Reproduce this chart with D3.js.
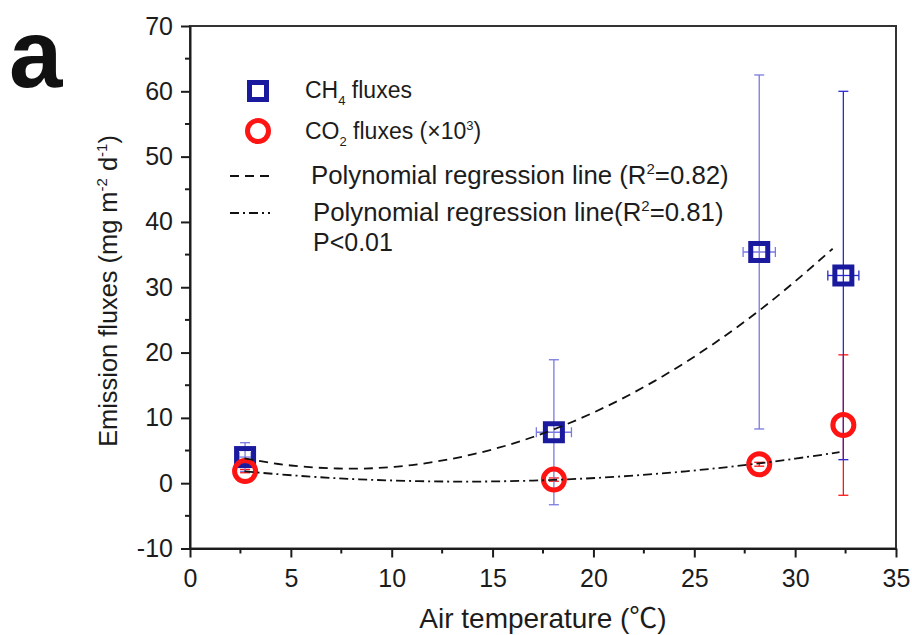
<!DOCTYPE html>
<html>
<head>
<meta charset="utf-8">
<script src="https://cdn.jsdelivr.net/npm/d3@7"></script>
<style>
  html, body { margin: 0; padding: 0; background: #fff; }
  svg { display: block; font-family: "Liberation Sans", Arial, "Noto Sans CJK SC", sans-serif; }
</style>
</head>
<body>
<svg id="chart" width="912" height="635"></svg>
<script>
// ---- data ----
const temperature = [2.73, 18.04, 28.22, 32.39];          // °C
const tempErr     = [0.30, 0.87, 0.80, 0.77];
const ch4Flux     = [4.0, 7.8, 35.4, 31.8];               // mg m-2 d-1
const ch4Err      = [2.2, 11.1, 27.1, 28.2];
const co2Flux     = [1.85, 0.55, 2.9, 8.9];               // ×10^3
const co2Err      = [0.25, 0.25, 0.3, 10.75];

// regression lines, points
const ch4FitX = [2.7, 5, 8, 11, 14, 17, 20, 23, 26, 29, 31.86];
const ch4FitY = [3.8, 2.71, 2.22, 2.78, 4.40, 7.07, 10.81, 15.59, 21.44, 28.34, 35.9];
const co2FitX = [2.7, 6, 9, 12, 15, 18, 21, 24, 27, 30, 32.2];
const co2FitY = [1.8, 1.0, 0.52, 0.28, 0.27, 0.50, 0.96, 1.66, 2.59, 3.76, 4.76];

const xTicks = [0, 5, 10, 15, 20, 25, 30, 35];
const yTicks = [-10, 0, 10, 20, 30, 40, 50, 60, 70];

// ---- layout ----
const L = 190, R = 896, T = 26, B = 548.5;
const svg = d3.select("#chart");
const x = d3.scaleLinear().domain([0, 35]).range([L, R]);
const y = d3.scaleLinear().domain([-10, 70]).range([B, T]);

const BLUE = "#1a1a9e", RED = "#ff1414", INK = "#1c1c1c";

// frame
svg.append("rect").attr("x", L).attr("y", T).attr("width", R - L).attr("height", B - T)
  .attr("fill", "none").attr("stroke", "#333").attr("stroke-width", 2);

// minor ticks
const xMinor = d3.range(2.5, 35, 5);
const yMinor = d3.range(-5, 70, 10);
svg.append("g").selectAll("line").data(xMinor).join("line")
  .attr("x1", d => x(d)).attr("x2", d => x(d)).attr("y1", B).attr("y2", B + 5)
  .attr("stroke", INK).attr("stroke-width", 2);
svg.append("g").selectAll("line").data(yMinor).join("line")
  .attr("y1", d => y(d)).attr("y2", d => y(d)).attr("x1", L).attr("x2", L - 5)
  .attr("stroke", INK).attr("stroke-width", 2);

// axes
const fmt = d => String(d);
const xAxis = svg.append("g").attr("transform", `translate(0,${B})`)
  .call(d3.axisBottom(x).tickValues(xTicks).tickFormat(fmt).tickSize(9).tickSizeOuter(0).tickPadding(12));
const yAxis = svg.append("g").attr("transform", `translate(${L},0)`)
  .call(d3.axisLeft(y).tickValues(yTicks).tickFormat(fmt).tickSize(9).tickSizeOuter(0).tickPadding(8));
[xAxis, yAxis].forEach(g => {
  g.select(".domain").attr("stroke", INK).attr("stroke-width", 2);
  g.selectAll(".tick line").attr("stroke", INK).attr("stroke-width", 2);
  g.selectAll(".tick text").attr("fill", INK).style("font-size", "25px")
    .style("font-family", "'Liberation Sans', Arial, sans-serif");
});

// axis titles
const yl = svg.append("text").attr("transform", "translate(117,291) rotate(-90)")
  .attr("text-anchor", "middle").attr("fill", INK).style("font-size", "25.4px");
yl.append("tspan").text("Emission fluxes (mg m");
yl.append("tspan").text("-2").attr("dy", -10).style("font-size", "15px");
yl.append("tspan").text(" d").attr("dy", 10);
yl.append("tspan").text("-1").attr("dy", -10).style("font-size", "15px");
yl.append("tspan").text(")").attr("dy", 10);

svg.append("text").attr("x", 543).attr("y", 628).attr("text-anchor", "middle")
  .attr("fill", INK).style("font-size", "28px").text("Air temperature (℃)");

// panel letter
svg.append("text").attr("x", 9).attr("y", 87).attr("fill", "#111")
  .style("font-size", "96px").style("font-weight", "bold").text("a");

// ---- error bars ----
const cap = 5;
const ch4ErrColor = i => i === 3 ? "#2a2ad0" : "#7a7ae0";
const eb = svg.append("g");
temperature.forEach((t, i) => {
  const cx = x(t);
  // CO2 vertical
  const c0 = y(co2Flux[i] - co2Err[i]), c1 = y(co2Flux[i] + co2Err[i]);
  eb.append("line").attr("x1", cx).attr("x2", cx).attr("y1", c0).attr("y2", c1).attr("stroke", RED).attr("stroke-width", 1.3);
  [c0, c1].forEach(v => eb.append("line").attr("x1", cx - cap).attr("x2", cx + cap).attr("y1", v).attr("y2", v).attr("stroke", RED).attr("stroke-width", 1.3));
  // CH4 vertical
  const col = ch4ErrColor(i);
  const h0 = y(ch4Flux[i] - ch4Err[i]), h1 = y(ch4Flux[i] + ch4Err[i]);
  eb.append("line").attr("x1", cx).attr("x2", cx).attr("y1", h0).attr("y2", h1).attr("stroke", col).attr("stroke-width", 1.3);
  [h0, h1].forEach(v => eb.append("line").attr("x1", cx - cap).attr("x2", cx + cap).attr("y1", v).attr("y2", v).attr("stroke", col).attr("stroke-width", 1.3));
  // CH4 horizontal
  const cy = y(ch4Flux[i]);
  const xa = x(t - tempErr[i]), xb = x(t + tempErr[i]);
  eb.append("line").attr("x1", xa).attr("x2", xb).attr("y1", cy).attr("y2", cy).attr("stroke", col).attr("stroke-width", 1.3);
  [xa, xb].forEach(v => eb.append("line").attr("x1", v).attr("x2", v).attr("y1", cy - cap).attr("y2", cy + cap).attr("stroke", col).attr("stroke-width", 1.3));
});

// ---- markers ----
svg.append("g").selectAll("rect").data(temperature).join("rect")
  .attr("x", (d) => x(d) - 8.5).attr("y", (d, i) => y(ch4Flux[i]) - 8.5)
  .attr("width", 17).attr("height", 17)
  .attr("fill", "none").attr("stroke", BLUE).attr("stroke-width", 5);
svg.append("g").selectAll("circle").data(temperature).join("circle")
  .attr("cx", d => x(d)).attr("cy", (d, i) => y(co2Flux[i])).attr("r", 10.5)
  .attr("fill", "none").attr("stroke", RED).attr("stroke-width", 5);

// ---- regression curves ----
const line = d3.line().x(d => x(d[0])).y(d => y(d[1])).curve(d3.curveNatural);
svg.append("path").datum(ch4FitX.map((v, i) => [v, ch4FitY[i]]))
  .attr("d", line).attr("fill", "none").attr("stroke", "#111").attr("stroke-width", 1.8)
  .attr("stroke-dasharray", "9,6");
svg.append("path").datum(co2FitX.map((v, i) => [v, co2FitY[i]]))
  .attr("d", line).attr("fill", "none").attr("stroke", "#111").attr("stroke-width", 1.8)
  .attr("stroke-dasharray", "9,4,2,4");

// ---- legend ----
const lg = svg.append("g").attr("fill", INK);
lg.append("rect").attr("x", 258 - 8.5).attr("y", 91 - 8.5).attr("width", 17).attr("height", 17)
  .attr("fill", "none").attr("stroke", BLUE).attr("stroke-width", 5);
lg.append("circle").attr("cx", 258).attr("cy", 131).attr("r", 10.5)
  .attr("fill", "none").attr("stroke", RED).attr("stroke-width", 5);
lg.append("line").attr("x1", 230).attr("x2", 270).attr("y1", 176).attr("y2", 176)
  .attr("stroke", "#111").attr("stroke-width", 1.8).attr("stroke-dasharray", "9,6");
lg.append("line").attr("x1", 230).attr("x2", 270).attr("y1", 213).attr("y2", 213)
  .attr("stroke", "#111").attr("stroke-width", 1.8).attr("stroke-dasharray", "9,4,2,4");

const t1 = lg.append("text").attr("x", 305).attr("y", 98).style("font-size", "23px");
t1.append("tspan").text("CH");
t1.append("tspan").text("4").attr("dy", 7).style("font-size", "13px");
t1.append("tspan").text(" fluxes").attr("dy", -7);

const t2 = lg.append("text").attr("x", 305).attr("y", 139).style("font-size", "23px");
t2.append("tspan").text("CO");
t2.append("tspan").text("2").attr("dy", 7).style("font-size", "13px");
t2.append("tspan").text(" fluxes (×10").attr("dy", -7);
t2.append("tspan").text("3").attr("dy", -9).style("font-size", "13px");
t2.append("tspan").text(")").attr("dy", 9);

const t3 = lg.append("text").attr("x", 311).attr("y", 184).style("font-size", "25.8px");
t3.append("tspan").text("Polynomial regression line (R");
t3.append("tspan").text("2").attr("dy", -10).style("font-size", "15px");
t3.append("tspan").text("=0.82)").attr("dy", 10);

const t4 = lg.append("text").attr("x", 313).attr("y", 221).style("font-size", "25.8px");
t4.append("tspan").text("Polynomial regression line(R");
t4.append("tspan").text("2").attr("dy", -10).style("font-size", "15px");
t4.append("tspan").text("=0.81)").attr("dy", 10);

lg.append("text").attr("x", 313).attr("y", 251).style("font-size", "25px").text("P<0.01");
</script>
</body>
</html>
